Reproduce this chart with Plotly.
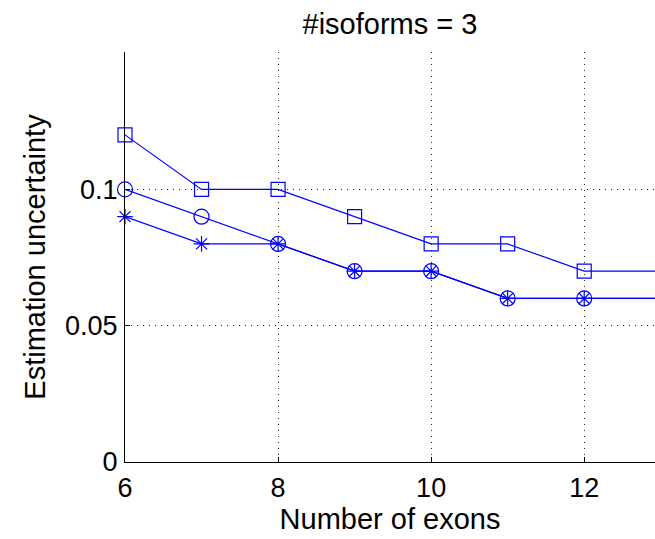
import plotly.graph_objects as go

# Number of exons on the horizontal axis
exons = [6, 7, 8, 9, 10, 11, 12, 13]

# Estimation uncertainty for the three estimators
uncert_square = [0.12, 0.10, 0.10, 0.09, 0.08, 0.08, 0.07, 0.07]
uncert_circle = [0.10, 0.09, 0.08, 0.07, 0.07, 0.06, 0.06, 0.06]
uncert_star = [0.09, 0.08, 0.08, 0.07, 0.07, 0.06, 0.06, 0.06]

x_ticks = [6, 8, 10, 12]
y_ticks = [0, 0.05, 0.1]
y_tick_text = ["0", "0.05", "0.1"]

BLUE = "#0000ff"
FONT = "Liberation Sans, Arial, sans-serif"

fig = go.Figure()

for ys, sym, size in [
    (uncert_square, "square-open", 14),
    (uncert_circle, "circle-open", 15),
    (uncert_star, "asterisk-open", 13),
]:
    fig.add_trace(go.Scatter(
        x=exons, y=ys, mode="lines+markers",
        line=dict(color=BLUE, width=1.2),
        marker=dict(symbol=sym, size=size, color=BLUE,
                    line=dict(color=BLUE, width=1.2)),
        cliponaxis=False, showlegend=False,
    ))

fig.update_layout(
    width=655, height=539,
    margin=dict(l=124.5, r=0, t=52, b=77),
    paper_bgcolor="white", plot_bgcolor="white",
    font=dict(family=FONT, size=27, color="black"),
    title=dict(text="#isoforms = 3", x=390 / 655, y=1 - 24 / 539,
               xref="container", yref="container",
               xanchor="center", yanchor="middle",
               font=dict(size=29, family=FONT, color="black")),
)

grid = dict(showgrid=True, gridcolor="#222222", griddash="1px,5px", gridwidth=1)

fig.update_xaxes(
    range=[6, 12.925], tickvals=x_ticks, ticks="inside", ticklen=5,
    tickcolor="black", showline=True, linecolor="black", linewidth=1,
    zeroline=False, ticklabelstandoff=2, **grid,
    title=dict(text="Number of exons", font=dict(size=29, family=FONT), standoff=6),
)
fig.update_yaxes(
    range=[0, 0.1504], tickvals=y_ticks, ticktext=y_tick_text, ticks="inside",
    ticklen=5, tickcolor="black", showline=True, linecolor="black", linewidth=1,
    zeroline=False, ticklabelstandoff=1, **grid,
    title=dict(text="Estimation uncertainty", font=dict(size=29, family=FONT), standoff=10),
)

fig.write_html("out.html")
